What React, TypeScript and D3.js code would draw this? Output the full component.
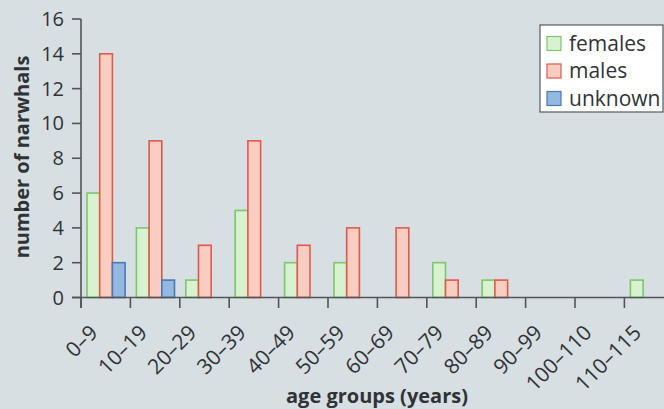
import React from "react";
import * as d3 from "d3";

const categories = ["0–9", "10–19", "20–29", "30–39", "40–49", "50–59", "60–69", "70–79", "80–89", "90–99", "100–110", "110–115"];
const females = [6, 4, 1, 5, 2, 2, 0, 2, 1, 0, 0, 1];
const males = [14, 9, 3, 9, 3, 4, 4, 1, 1, 0, 0, 0];
const unknown = [2, 1, 0, 0, 0, 0, 0, 0, 0, 0, 0, 0];
const seriesNames = ["females", "males", "unknown"];
const yTicks = [0, 2, 4, 6, 8, 10, 12, 14, 16];

const W = 664;
const H = 409;
const FONT = "'Open Sans', 'Noto Sans', sans-serif";

const fills = ["#d8f1cf", "#f9cdbf", "#93b8e2"];
const strokes = ["#7cc66f", "#de5a50", "#4a78b4"];
const AX = "#505558";
const TXT = "#2f3336";

export default function App() {
  const x0 = d3.scaleBand<string>().domain(categories).range([81, 81 + 12 * 49.4]);
  const x1 = d3.scaleBand<string>().domain(seriesNames).range([6, 6 + 3 * 12.7]);
  const y = d3.scaleLinear().domain([0, 16]).range([297.5, 19]);
  const data = [females, males, unknown];

  return (
    <svg width={W} height={H} style={{ position: "absolute", left: 0, top: 0, background: "#d7dfe2" }} fontFamily={FONT}>
      <rect x={0} y={0} width={W} height={H} fill="#d7dfe2" />
      {data.map((vals, si) =>
        vals.map((v, ci) =>
          v > 0 ? (
            <rect
              key={`${si}-${ci}`}
              x={(x0(categories[ci]) as number) + (x1(seriesNames[si]) as number)}
              y={y(v)}
              width={x1.bandwidth()}
              height={y(0) - y(v)}
              fill={fills[si]}
              stroke={strokes[si]}
              strokeWidth={1.6}
            />
          ) : null
        )
      )}
      {/* y axis */}
      <line x1={81} x2={81} y1={y(16)} y2={308} stroke={AX} strokeWidth={1.6} />
      {yTicks.map((t) => (
        <g key={t}>
          <line x1={72} x2={81} y1={y(t)} y2={y(t)} stroke={AX} strokeWidth={1.6} />
          <text x={64} y={y(t)} dy="0.35em" textAnchor="end" fontSize={20} fill={TXT}>
            {t}
          </text>
        </g>
      ))}
      {/* x axis */}
      <line x1={72} x2={W} y1={y(0)} y2={y(0)} stroke={AX} strokeWidth={1.6} />
      {categories.map((c) => {
        const tx = x0(c) as number;
        return (
          <g key={c}>
            <line x1={tx} x2={tx} y1={y(0)} y2={308} stroke={AX} strokeWidth={1.6} />
            <text
              transform={`translate(${tx + 18},${334}) rotate(-45)`}
              textAnchor="end"
              fontSize={21}
              fill={TXT}
            >
              {c}
            </text>
          </g>
        );
      })}
      {/* axis titles */}
      <text x={377} y={403} textAnchor="middle" fontSize={20} fontWeight={700} fill={TXT}>
        age groups (years)
      </text>
      <text transform={`translate(29,157) rotate(-90)`} textAnchor="middle" fontSize={20} fontWeight={700} fill={TXT}>
        number of narwhals
      </text>
      {/* legend */}
      <rect x={540} y={25} width={123} height={87} fill="#ffffff" stroke="#555a5e" strokeWidth={1.2} />
      {seriesNames.map((s, i) => (
        <g key={s} transform={`translate(547,${36.5 + i * 27.5})`}>
          <rect x={0} y={0} width={14} height={14} fill={fills[i]} stroke={strokes[i]} strokeWidth={1.2} />
          <text x={22} y={7} dy="0.35em" fontSize={21} fill={TXT}>
            {s}
          </text>
        </g>
      ))}
    </svg>
  );
}
